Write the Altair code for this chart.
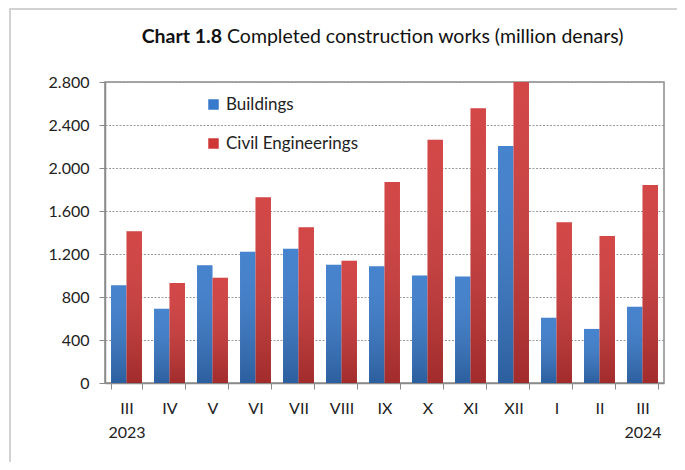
import altair as alt
import pandas as pd

# ---- data ----
months = ["III 2023", "IV", "V", "VI", "VII", "VIII", "IX", "X", "XI", "XII", "I", "II", "III 2024"]
buildings = [910, 690, 1095, 1220, 1250, 1100, 1085, 1000, 990, 2205, 608, 503, 710]
civil = [1412, 930, 980, 1728, 1450, 1138, 1870, 2262, 2555, 2820, 1495, 1367, 1842]
series = ["Buildings", "Civil Engineerings"]
colors = ["#3779ca", "#cf3737"]
y_ticks = [0, 400, 800, 1200, 1600, 2000, 2400, 2800]
title_bold = ["Chart 1.8"]
title_rest = ["Completed construction works (million denars)"]

rows = []
for m, b, c in zip(months, buildings, civil):
    rows.append({"month": m, "series": series[0], "value": b})
    rows.append({"month": m, "series": series[1], "value": c})
df = pd.DataFrame(rows)

FONT = "Lato"
W, H = 559, 301

x_enc = alt.X(
    "month:N",
    sort=months,
    title=None,
    scale=alt.Scale(paddingInner=0.28, paddingOuter=0.14),
    axis=alt.Axis(
        labelAngle=0,
        labelExpr="datum.value == 'III 2023' ? ['III', '2023'] : datum.value == 'III 2024' ? ['III', '2024'] : datum.value",
        labelFont=FONT,
        labelFontSize=16,
        labelColor="#222222",
        labelLineHeight=24,
        labelPadding=11,
        labelBaseline="top",
        tickBand="extent",
        tickColor="#8a8a8a",
        tickSize=6,
        domainColor="#8a8a8a",
        domainWidth=1.5,
        grid=False,
    ),
)
xoff = alt.XOffset("series:N", sort=series, scale=alt.Scale(paddingInner=0, paddingOuter=0))
y_enc = alt.Y(
    "value:Q",
    title=None,
    scale=alt.Scale(domain=[0, 2800], nice=False),
    axis=alt.Axis(
        values=y_ticks,
        labelExpr="replace(format(datum.value, ','), ',', '.')",
        labelFont=FONT,
        labelFontSize=16,
        labelColor="#222222",
        labelPadding=10,
        tickColor="#8a8a8a",
        tickSize=6,
        domainColor="#8a8a8a",
        domainWidth=1.5,
        grid=True,
        gridColor="#9a9a9a",
        gridDash=[2, 1.5],
        gridWidth=1,
    ),
)

bars = alt.Chart(df).mark_bar(clip=True).encode(
    x=x_enc,
    xOffset=xoff,
    y=y_enc,
    color=alt.Color(
        "series:N",
        sort=series,
        scale=alt.Scale(domain=series, range=colors),
        legend=alt.Legend(
            title=None,
            orient="none",
            legendX=100,
            legendY=14,
            symbolType="square",
            symbolSize=110,
            symbolStrokeWidth=0,
            symbolOpacity=1,
            labelFont=FONT,
            labelFontSize=17,
            labelColor="#222222",
            labelOffset=4,
            rowPadding=21,
            padding=0,
        ),
    ),
)

shade = alt.Chart(df).mark_bar(
    clip=True,
    color=alt.Gradient(
        gradient="linear",
        x1=0, y1=0, x2=0, y2=1,
        stops=[
            alt.GradientStop(offset=0, color="rgba(255,255,255,0.08)"),
            alt.GradientStop(offset=1, color="rgba(0,0,0,0.22)"),
        ],
    ),
).encode(x=alt.X("month:N", sort=months), xOffset=xoff, y=alt.Y("value:Q"))

t1 = alt.Chart(pd.DataFrame({"t": title_bold})).mark_text(
    font=FONT, fontSize=19.5, fontWeight="bold", align="right", baseline="middle", color="#111111"
).encode(text="t:N", x=alt.value(117), y=alt.value(-45))

t2 = alt.Chart(pd.DataFrame({"t": title_rest})).mark_text(
    font=FONT, fontSize=19.5, align="left", baseline="middle", color="#111111"
).encode(text="t:N", x=alt.value(122), y=alt.value(-45))

frame = alt.Chart(pd.DataFrame({"a": [0]})).mark_rect(
    filled=False, stroke="#c4c4c4", strokeWidth=1.5
).encode(x=alt.value(-95), x2=alt.value(700), y=alt.value(-73), y2=alt.value(420))

chart = (
    alt.layer(frame, bars, shade, t1, t2)
    .properties(
        width=W,
        height=H,
        autosize=alt.AutoSizeParams(type="none"),
        padding={"left": 97, "top": 74, "right": 13, "bottom": 79},
        background="white",
    )
    .configure_view(stroke="#8a8a8a", strokeWidth=1.5)
)

chart.save("out.html", embed_options={"renderer": "svg", "actions": False})
